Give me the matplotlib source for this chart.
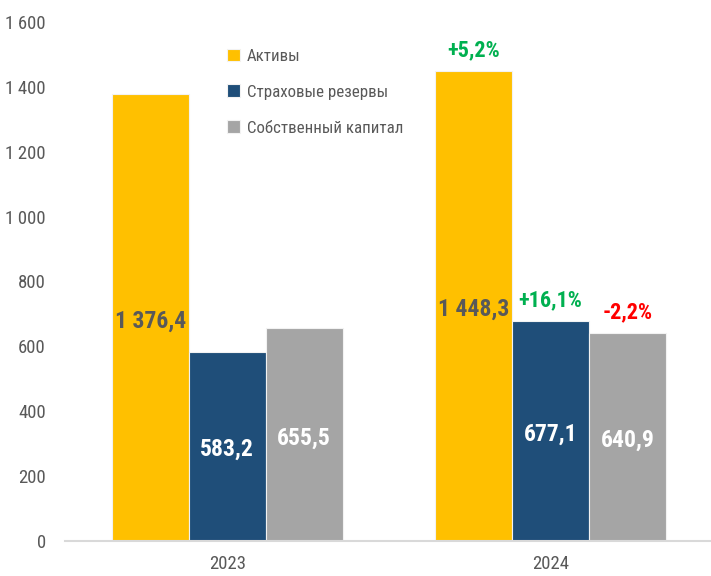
import matplotlib
matplotlib.use("Agg")
import matplotlib.pyplot as plt
from matplotlib import font_manager
import numpy as np

years = ["2023", "2024"]
series_names = ["Активы", "Страховые резервы", "Собственный капитал"]
assets = [1376.4, 1448.3]
reserves = [583.2, 677.1]
capital = [655.5, 640.9]
growth_labels = ["+5,2%", "+16,1%", "-2,2%"]
y_ticks = [0, 200, 400, 600, 800, 1000, 1200, 1400, 1600]

colors = ["#FFC000", "#1F4E79", "#A5A5A5"]
value_colors = ["#595959", "white", "white"]
growth_colors = ["#00B050", "#00B050", "#FF0000"]

# pick a narrow font if the box has one
have = {f.name for f in font_manager.fontManager.ttflist}
narrow = "DejaVu Sans"
for name in ["Roboto Condensed", "Liberation Sans Narrow", "Open Sans Condensed", "Noto Sans Condensed"]:
    if name in have:
        narrow = name
        break
plt.rcParams["font.family"] = [narrow, "DejaVu Sans"]


def fmt(v):
    s = "{:,.1f}".format(v)
    return s.replace(",", " ").replace(".", ",")


fig = plt.figure(figsize=(7.11, 5.76), dpi=100)
ax = fig.add_axes([0.092, 0.061, 0.91, 0.901])

x = np.arange(len(years))
w = 0.238
data = [assets, reserves, capital]
for i, vals in enumerate(data):
    pos = x + (i - 1) * w
    ax.bar(pos, vals, w, color=colors[i], edgecolor="#F2F2F2", linewidth=0.8,
           label=series_names[i], zorder=2)
    for xp, v in zip(pos, vals):
        ax.text(xp, v / 2 - 10, fmt(v), ha="center", va="center",
                fontsize=17, fontweight="bold", color=value_colors[i])

# growth figures over the 2024 bars
for i, vals in enumerate(data):
    ax.annotate(growth_labels[i], (x[1] + (i - 1) * w, vals[1]),
                xytext=(0, 15), textcoords="offset points", ha="center",
                va="center", fontsize=16, fontweight="bold", color=growth_colors[i])

ax.set_xlim(-0.5, 1.5)
ax.set_ylim(0, 1600)
ax.set_yticks(y_ticks)
ax.set_yticklabels(["{:,}".format(t).replace(",", "\u2009") for t in y_ticks])
ax.set_xticks(x)
ax.set_xticklabels(years)

for side in ["top", "right", "left"]:
    ax.spines[side].set_visible(False)
ax.spines["bottom"].set_color("#D9D9D9")
ax.spines["bottom"].set_linewidth(1.5)
ax.tick_params(axis="both", length=0, labelsize=13.5, colors="#595959")
ax.tick_params(axis="y", pad=14)
ax.tick_params(axis="x", pad=10)

leg = ax.legend(loc="upper left", bbox_to_anchor=(0.226, 0.978), frameon=False,
                fontsize=12.2, handlelength=0.78, handleheight=0.78,
                handletextpad=0.4, labelspacing=1.22)
for t in leg.get_texts():
    t.set_color("#595959")

fig.savefig("out.png", dpi=100)
